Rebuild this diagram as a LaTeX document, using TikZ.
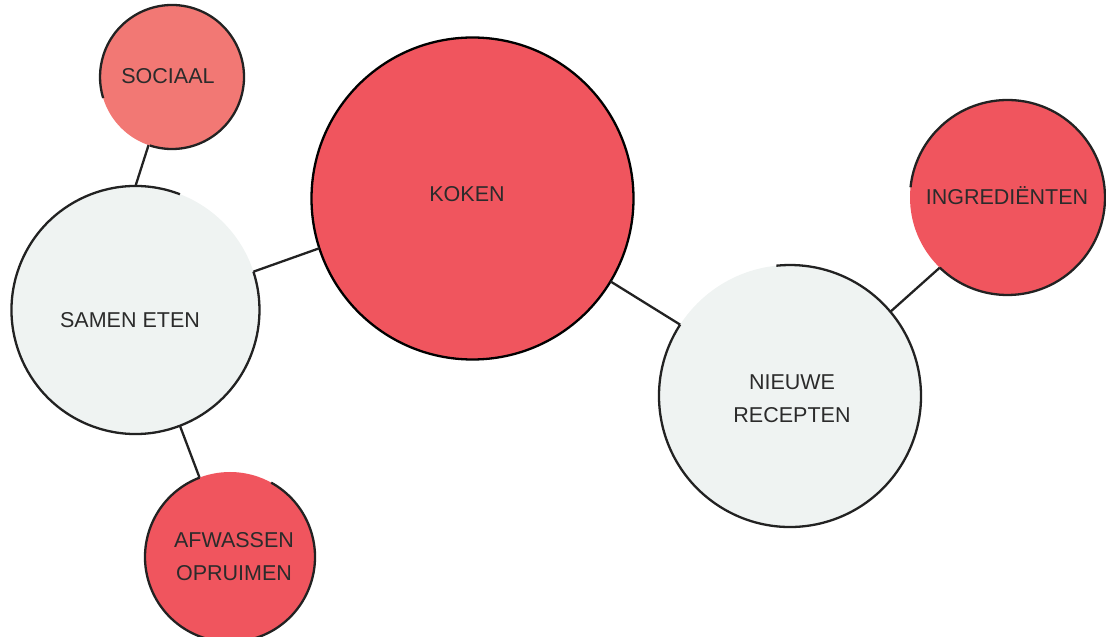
\documentclass[tikz,border=0pt]{standalone}
\usepackage{fontspec}
\setmainfont{Liberation Sans}
\definecolor{salmon}{HTML}{F27874}
\definecolor{redfill}{HTML}{F0555E}
\definecolor{grayfill}{HTML}{EFF3F2}
\definecolor{ink}{HTML}{222222}
\definecolor{txt}{HTML}{2B2B2B}
\begin{document}
\begin{tikzpicture}[x=1pt,y=1pt,
  bubble/.style={circle,draw=none,inner sep=0pt,outer sep=0pt},
  outline/.style={draw=ink,line width=2.3pt},
  link/.style={draw=ink,line width=2.3pt},
  lbl/.style={text=txt,font=\fontsize{21.5}{33}\selectfont,align=center,inner sep=0pt}]
\useasboundingbox (0,0) rectangle (1106,637);
% bubbles
\node[bubble,fill=salmon,minimum size=144pt] (soc) at (172,560) {};
\node[bubble,fill=grayfill,minimum size=248pt] (sam) at (135.5,327) {};
\node[bubble,fill=redfill,minimum size=322pt] (kok) at (472.5,438.5) {};
\node[bubble,fill=grayfill,minimum size=262pt] (nie) at (790,241) {};
\node[bubble,fill=redfill,minimum size=195pt] (ing) at (1007.5,439.5) {};
\node[bubble,fill=redfill,minimum size=170pt] (afw) at (230,80) {};
% outlines with gaps
\draw[outline] (soc.252) arc[start angle=252,end angle=557,radius=72pt];
\draw[outline] (sam.69) arc[start angle=69,end angle=378,radius=124pt];
\draw[outline,draw=black] (kok.0) arc[start angle=0,end angle=360,radius=161pt];
\draw[outline] (nie.147) arc[start angle=147,end angle=456,radius=131pt];
\draw[outline] (ing.226) arc[start angle=226,end angle=534,radius=97.5pt];
\draw[outline] (afw.111) arc[start angle=111,end angle=421,radius=85pt];
% connectors
\draw[link] (soc.251) -- (sam.90);
\draw[link] (sam.18) -- (kok.198);
\draw[link] (kok.329) -- (nie.147);
\draw[link] (nie.40) -- (ing.226);
\draw[link] (sam.291) -- (afw.111);
% labels
\node[lbl] (tsoc) at (168,561) {SOCIAAL};
\node[lbl] (tsam) at (130,317) {SAMEN ETEN};
\node[lbl] (tkok) at (467,443) {KOKEN};
\node[lbl] (tnie) at (792,238) {NIEUWE\\RECEPTEN};
\node[lbl] (ting) at (1007,441) {INGREDIËNTEN};
\node[lbl] (tafw) at (234,80) {AFWASSEN\\OPRUIMEN};
\end{tikzpicture}
\end{document}
